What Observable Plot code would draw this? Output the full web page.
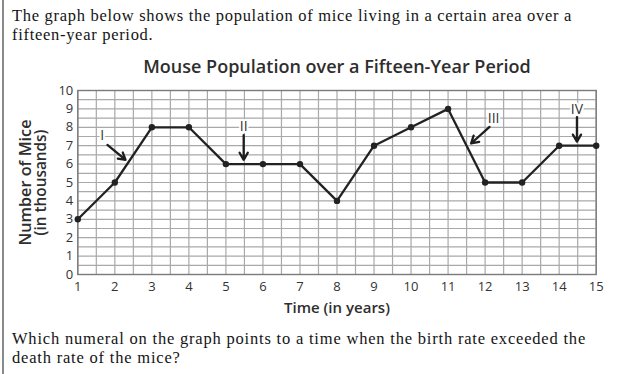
<!DOCTYPE html>
<html><head><meta charset="utf-8">
<script src="https://cdn.jsdelivr.net/npm/d3@7"></script>
<script src="https://cdn.jsdelivr.net/npm/@observablehq/plot@0.6"></script>
<style>
html,body{margin:0;padding:0;background:#fff;}
#page{position:relative;width:619px;height:374px;overflow:hidden;background:#fff;}
#edge{position:absolute;left:2px;top:0;width:1.5px;height:374px;background:#8a8a8a;}
.line{position:absolute;left:12px;height:20px;line-height:20px;font-family:"Liberation Serif",serif;font-size:16.5px;color:#141414;white-space:nowrap;}
#chart{position:absolute;left:0;top:50px;}
</style></head>
<body><div id="page"><div id="edge"></div><div id="chart"></div></div>
<script>
// ---- text ----
const introLines = ["The graph below shows the population of mice living in a certain area over a", "fifteen-year period."];
const questionLines = ["Which numeral on the graph points to a time when the birth rate exceeded the", "death rate of the mice?"];
const chartTitle = "Mouse Population over a Fifteen-Year Period";
const xTitle = "Time (in years)";
const yTitle = ["Number of Mice", "(in thousands)"];

// ---- data ----
const years = [1, 2, 3, 4, 5, 6, 7, 8, 9, 10, 11, 12, 13, 14, 15];
const mice  = [3, 5, 8, 8, 6, 6, 6, 4, 7, 8, 9, 5, 5, 7, 7];
const xTicks = [1, 2, 3, 4, 5, 6, 7, 8, 9, 10, 11, 12, 13, 14, 15];
const yTicks = [0, 1, 2, 3, 4, 5, 6, 7, 8, 9, 10];
const gridX = [1, 1.5, 2, 2.5, 3, 3.5, 4, 4.5, 5, 5.5, 6, 6.5, 7, 7.5, 8, 8.5, 9, 9.5, 10, 10.5, 11, 11.5, 12, 12.5, 13, 13.5, 14, 14.5, 15];
const gridY = [0, 0.5, 1, 1.5, 2, 2.5, 3, 3.5, 4, 4.5, 5, 5.5, 6, 6.5, 7, 7.5, 8, 8.5, 9, 9.5, 10];

// ---- callouts (numerals with arrows) ----
const callouts = ["I", "II", "III", "IV"];
const calloutX = [1.66, 5.48, 12.23, 14.48];
const calloutY = [7.57, 8.02, 8.47, 8.95];
const arrowX1 = [1.80, 5.48, 12.12, 14.48];
const arrowY1 = [7.04, 7.57, 8.02, 8.55];
const arrowX2 = [2.29, 5.48, 11.62, 14.48];
const arrowY2 = [6.23, 6.23, 7.12, 7.22];

// ---- font fitting helpers ----
const ctx = document.createElement("canvas").getContext("2d");
function fitSize(text, weight, family, base, target) {
  ctx.font = `${weight} ${base}px ${family}`;
  return base * target / ctx.measureText(text).width;
}
const sansFam = "'Open Sans'";
const titleSize = fitSize(chartTitle, 600, sansFam, 19, 388);
const y1Size = fitSize(yTitle[0], 600, sansFam, 17, 126);
const y2Size = fitSize(yTitle[1], 600, sansFam, 17, 106);
const xSize = fitSize(xTitle, 600, sansFam, 16, 106);

// ---- paragraph lines ----
const page = document.getElementById("page");
function addLines(lines, tops, target) {
  ctx.font = "16.5px 'Liberation Serif'";
  const w = ctx.measureText(lines[0]).width;
  const ls = (target - w) / lines[0].length;
  lines.forEach((t, i) => {
    const d = document.createElement("div");
    d.className = "line";
    d.style.top = tops[i] + "px";
    d.style.letterSpacing = ls + "px";
    d.textContent = t;
    page.appendChild(d);
  });
}
addLines(introLines, [6.4, 25.4], 560);
addLines(questionLines, [329.4, 348.4], 574);

// ---- chart ----
const chart = Plot.plot({
  width: 619,
  height: 270,
  marginLeft: 77.3,
  marginRight: 23.3,
  marginTop: 40,
  marginBottom: 46,
  style: {fontFamily: "'Open Sans', sans-serif", fontSize: "13px", color: "#333", background: "transparent", overflow: "visible"},
  x: {domain: [1, 15], ticks: xTicks, tickSize: 0, tickPadding: 7.5, label: null, tickFormat: d => String(d)},
  y: {domain: [0, 10], ticks: yTicks, tickSize: 0, tickPadding: 4.5, label: null, tickFormat: d => String(d)},
  marks: [
    Plot.ruleX(gridX, {x: d => d, stroke: "#a9a9a9", strokeWidth: 1.2}),
    Plot.ruleY(gridY, {y: d => d, stroke: "#a9a9a9", strokeWidth: 1.2}),
    Plot.frame({stroke: "#7a7a7a", strokeWidth: 1.4}),
    Plot.line(years, {x: d => d, y: (d, i) => mice[i], stroke: "#222", strokeWidth: 2.3}),
    Plot.dot(years, {x: d => d, y: (d, i) => mice[i], r: 3.2, fill: "#222"}),
    Plot.text(callouts, {x: (d, i) => calloutX[i], y: (d, i) => calloutY[i], text: d => d, fontSize: 14, fill: "#333", stroke: "white", strokeWidth: 4, textAnchor: "middle", lineAnchor: "middle"}),
    Plot.arrow(callouts, {x1: (d, i) => arrowX1[i], y1: (d, i) => arrowY1[i], x2: (d, i) => arrowX2[i], y2: (d, i) => arrowY2[i], stroke: "#1e1e1e", strokeWidth: 2.3, headLength: 8}),
    Plot.text([chartTitle], {text: d => d, frameAnchor: "top", dy: -23, textAnchor: "middle", lineAnchor: "middle", fontSize: titleSize, fontWeight: 600, fill: "#2e2e2e"}),
    Plot.text([xTitle], {text: d => d, frameAnchor: "bottom", dy: 34, textAnchor: "middle", lineAnchor: "middle", fontSize: xSize, fontWeight: 600, fill: "#2e2e2e"}),
    Plot.text([yTitle[0]], {text: d => d, frameAnchor: "left", dx: -52, rotate: -90, textAnchor: "middle", lineAnchor: "middle", fontSize: y1Size, fontWeight: 600, fill: "#2e2e2e"}),
    Plot.text([yTitle[1]], {text: d => d, frameAnchor: "left", dx: -37, rotate: -90, textAnchor: "middle", lineAnchor: "middle", fontSize: y2Size, fontWeight: 600, fill: "#2e2e2e"})
  ]
});
document.getElementById("chart").appendChild(chart);
</script>
</body></html>
